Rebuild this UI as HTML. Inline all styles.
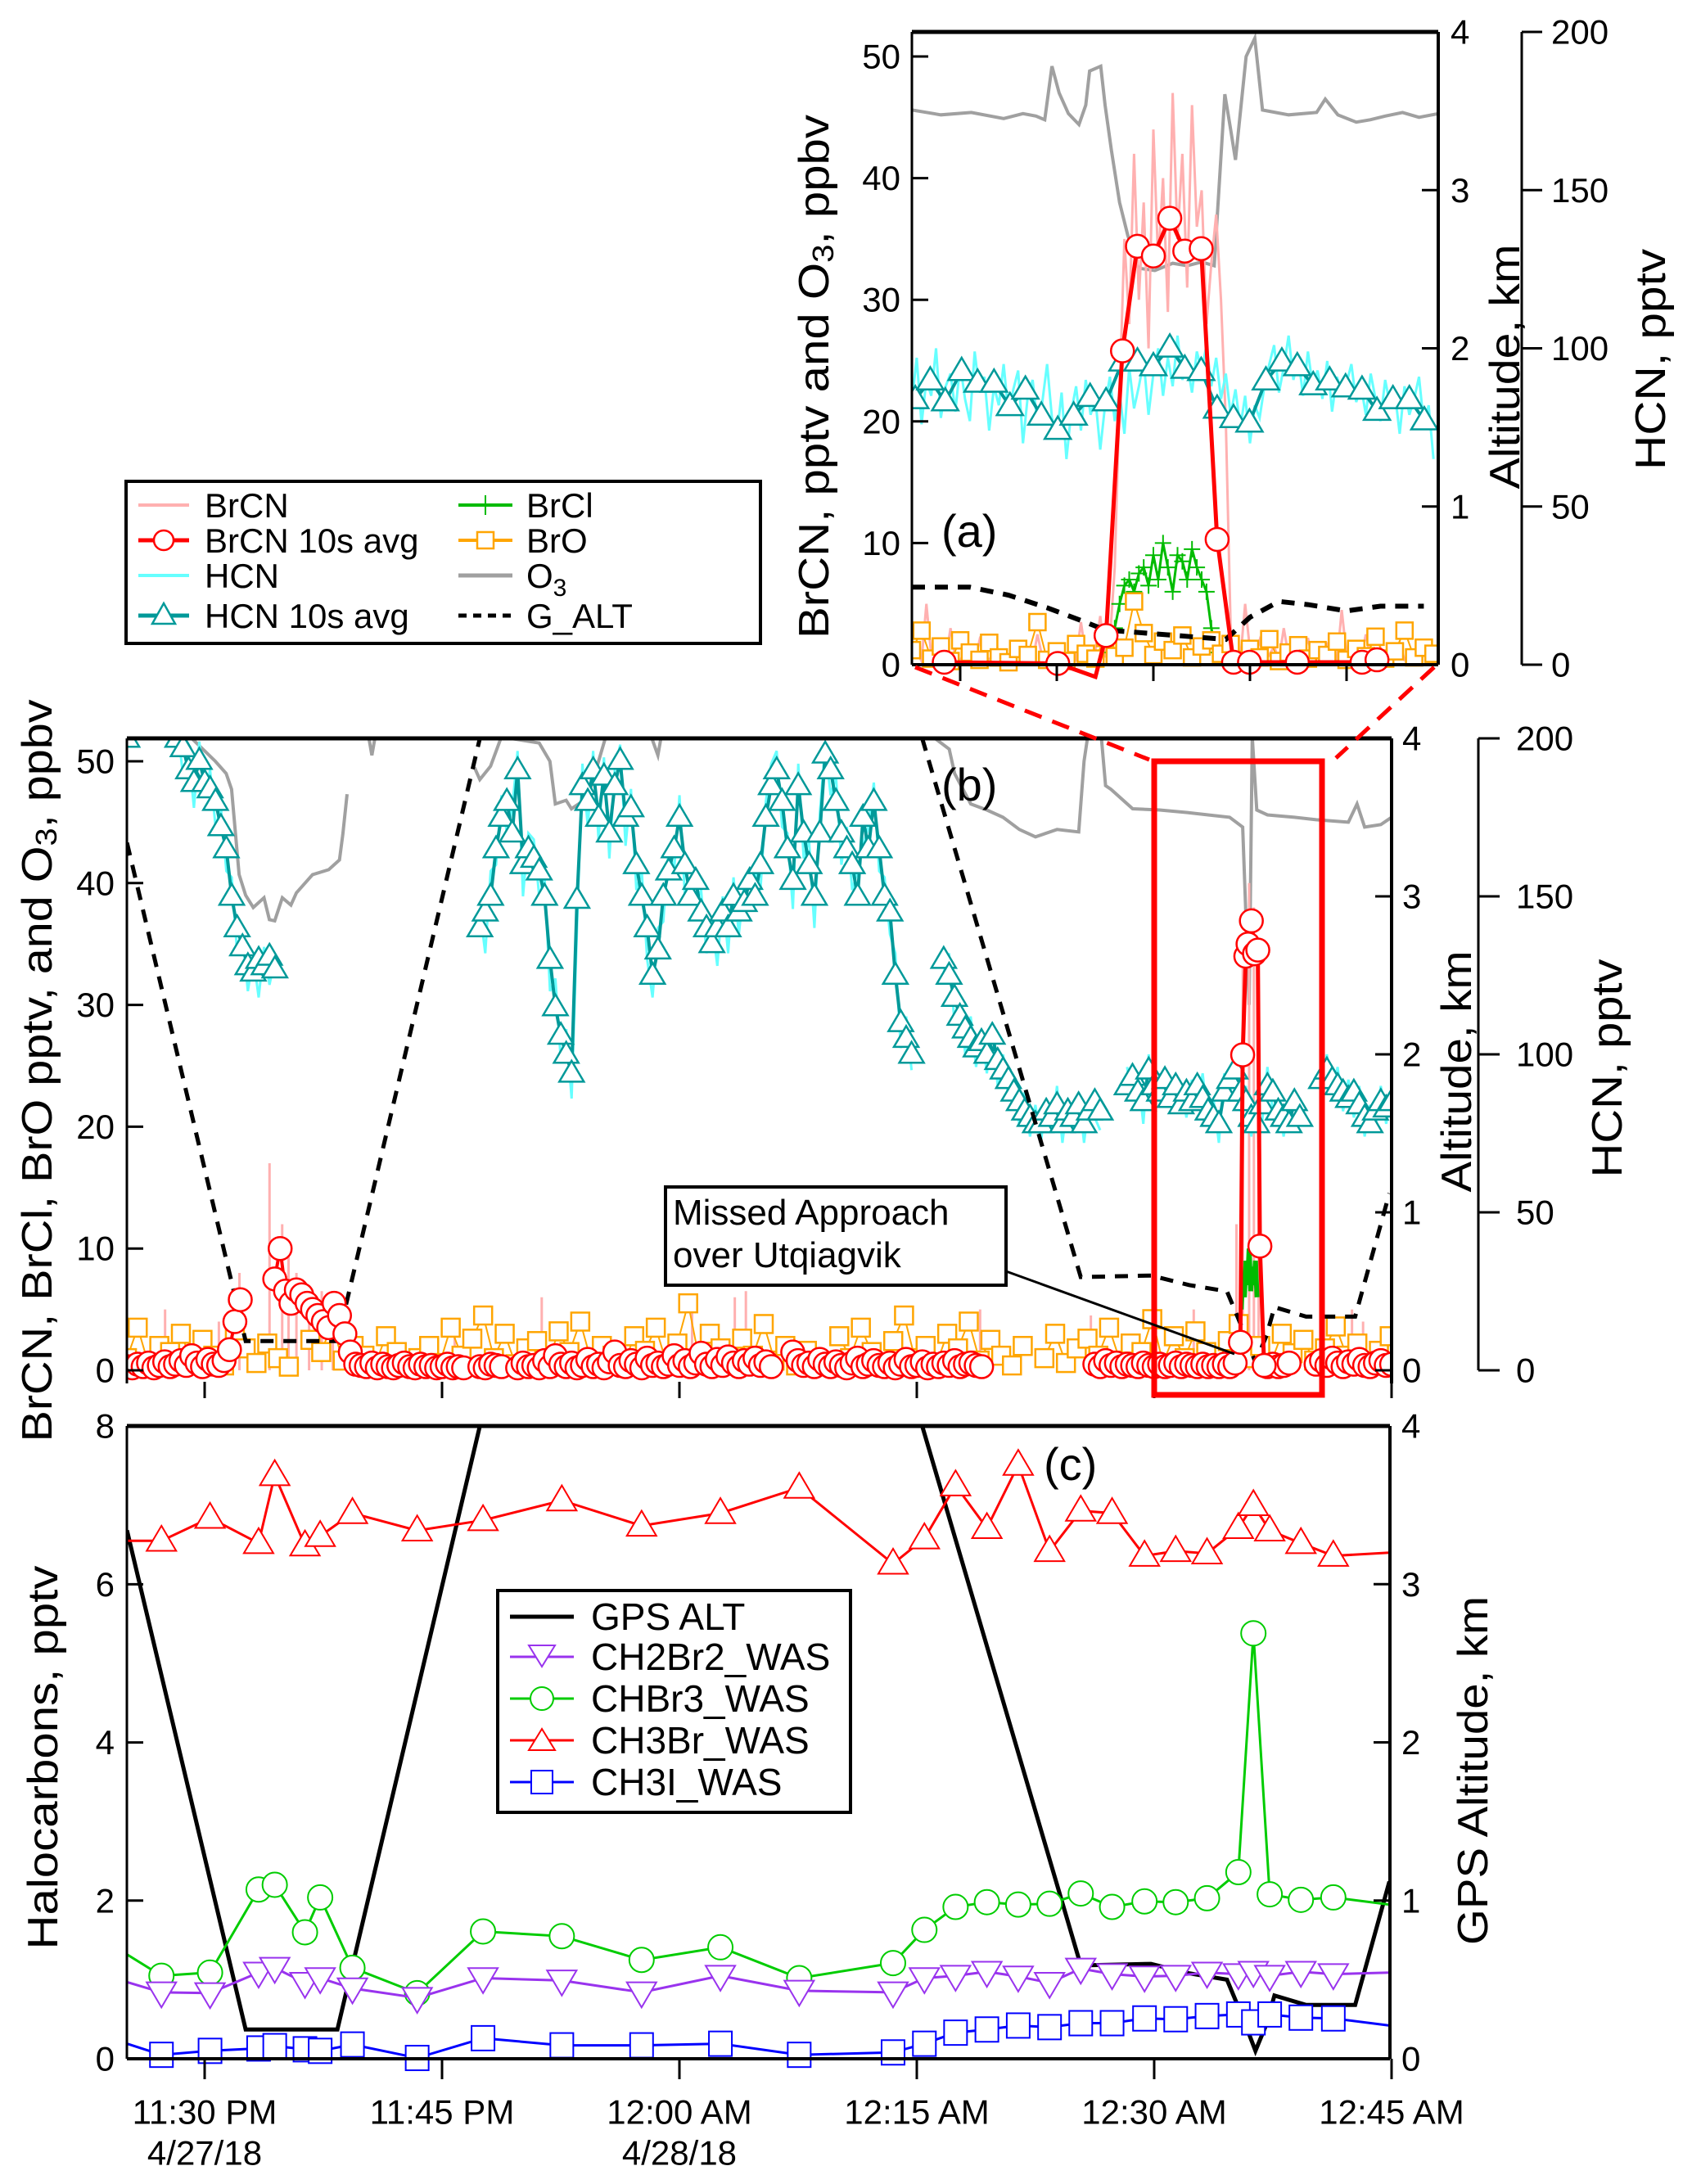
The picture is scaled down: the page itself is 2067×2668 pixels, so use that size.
<!DOCTYPE html>
<html><head><meta charset="utf-8"><title>BrCN halocarbons chart</title>
<style>
html,body{margin:0;padding:0;background:#fff;}
svg{display:block;font-family:"Liberation Sans",sans-serif;}
.tk{font-size:42px;fill:#000;}
.tt{font-size:52px;fill:#000;}
.lg{font-size:42px;fill:#000;}
</style></head>
<body>
<svg id="chart" width="2067" height="2668" viewBox="0 0 2067 2668" xmlns="http://www.w3.org/2000/svg">
<defs>
<clipPath id="clipA"><rect x="1114" y="39" width="643" height="795"/></clipPath>
<clipPath id="clipB"><rect x="155" y="902" width="1545" height="800"/></clipPath>
<clipPath id="clipC"><rect x="155" y="1742" width="1543" height="795"/></clipPath>
</defs>
<g id="panelA"></g>
<g id="panelB"></g>
<g id="panelC"></g>
<g id="axes"></g>

<!-- zoom connector + box -->
<line x1="1118" y1="815" x2="1404" y2="928" stroke="#f00" stroke-width="5" stroke-dasharray="22 14"/>
<line x1="1752" y1="815" x2="1632" y2="926" stroke="#f00" stroke-width="5" stroke-dasharray="22 14"/>
<rect x="1410" y="930" width="205" height="774" fill="none" stroke="#f00" stroke-width="7"/>

<!-- panel labels -->
<text x="1150" y="668" style="font-size:56px">(a)</text>
<text x="1150" y="978" style="font-size:56px">(b)</text>
<text x="1275" y="1808" style="font-size:56px">(c)</text>

<!-- annotation -->
<rect x="813" y="1450" width="416" height="120" fill="#fff" stroke="#000" stroke-width="4"/>
<text x="822" y="1496" class="lg" style="font-size:44px">Missed Approach</text>
<text x="822" y="1548" class="lg" style="font-size:44px">over Utqiagvik</text>
<line x1="1229" y1="1553" x2="1508" y2="1654" stroke="#000" stroke-width="3"/>

<!-- top legend -->
<g>
<rect x="154" y="588" width="775" height="198" fill="#fff" stroke="#000" stroke-width="4"/>
<line x1="169" y1="617" x2="231" y2="617" stroke="#ffb0b0" stroke-width="4"/>
<text x="250" y="632" class="lg">BrCN</text>
<line x1="169" y1="660" x2="231" y2="660" stroke="#f00" stroke-width="5"/>
<circle cx="200" cy="660" r="12" fill="#fff" stroke="#f00" stroke-width="2.5"/>
<text x="250" y="675" class="lg">BrCN 10s avg</text>
<line x1="169" y1="703" x2="231" y2="703" stroke="#66ffff" stroke-width="4"/>
<text x="250" y="718" class="lg">HCN</text>
<line x1="169" y1="752" x2="231" y2="752" stroke="#009999" stroke-width="5"/>
<polygon points="200,737 214,762 186,762" fill="#fff" stroke="#009999" stroke-width="2.5"/>
<text x="250" y="767" class="lg">HCN 10s avg</text>
<line x1="560" y1="617" x2="626" y2="617" stroke="#00bb00" stroke-width="4"/>
<line x1="593" y1="605" x2="593" y2="629" stroke="#00bb00" stroke-width="2"/>
<text x="643" y="632" class="lg">BrCl</text>
<line x1="560" y1="660" x2="626" y2="660" stroke="#ffa500" stroke-width="4"/>
<rect x="583" y="650" width="20" height="20" fill="#fff" stroke="#ffa500" stroke-width="2.5"/>
<text x="643" y="675" class="lg">BrO</text>
<line x1="560" y1="703" x2="626" y2="703" stroke="#a0a0a0" stroke-width="5"/>
<text x="643" y="718" class="lg">O<tspan dy="10" style="font-size:30px">3</tspan></text>
<line x1="560" y1="752" x2="626" y2="752" stroke="#000" stroke-width="5" stroke-dasharray="10 8"/>
<text x="643" y="767" class="lg">G_ALT</text>
</g>

<!-- bottom legend -->
<g>
<rect x="608" y="1943" width="431" height="271" fill="#fff" stroke="#000" stroke-width="4"/>
<line x1="623" y1="1975" x2="701" y2="1975" stroke="#000" stroke-width="5"/>
<text x="722" y="1991" class="lg" style="font-size:46px">GPS ALT</text>
<line x1="623" y1="2024" x2="701" y2="2024" stroke="#9933ee" stroke-width="3"/>
<polygon points="662,2036 678,2010 646,2010" fill="#fff" stroke="#9933ee" stroke-width="2"/>
<text x="722" y="2040" class="lg" style="font-size:46px">CH2Br2_WAS</text>
<line x1="623" y1="2075" x2="701" y2="2075" stroke="#00cc00" stroke-width="3"/>
<circle cx="662" cy="2075" r="14" fill="#fff" stroke="#00cc00" stroke-width="2"/>
<text x="722" y="2091" class="lg" style="font-size:46px">CHBr3_WAS</text>
<line x1="623" y1="2126" x2="701" y2="2126" stroke="#f00" stroke-width="3"/>
<polygon points="662,2112 678,2138 646,2138" fill="#fff" stroke="#f00" stroke-width="2"/>
<text x="722" y="2142" class="lg" style="font-size:46px">CH3Br_WAS</text>
<line x1="623" y1="2177" x2="701" y2="2177" stroke="#00f" stroke-width="3"/>
<rect x="649" y="2163" width="26" height="28" fill="#fff" stroke="#00f" stroke-width="2"/>
<text x="722" y="2193" class="lg" style="font-size:46px">CH3I_WAS</text>
</g>

<!-- axis titles -->
<text transform="translate(995,460) rotate(-90)" text-anchor="middle" dominant-baseline="central" class="tt" textLength="640" lengthAdjust="spacingAndGlyphs">BrCN, pptv and O<tspan dy="10" style="font-size:36px">3</tspan><tspan dy="-10">, ppbv</tspan></text>
<text transform="translate(1839,448) rotate(-90)" text-anchor="middle" dominant-baseline="central" class="tt" textLength="299" lengthAdjust="spacingAndGlyphs">Altitude, km</text>
<text transform="translate(2017,439) rotate(-90)" text-anchor="middle" dominant-baseline="central" class="tt" textLength="270" lengthAdjust="spacingAndGlyphs">HCN, pptv</text>
<text transform="translate(46,1308) rotate(-90)" text-anchor="middle" dominant-baseline="central" class="tt" textLength="907" lengthAdjust="spacingAndGlyphs">BrCN, BrCl, BrO pptv, and O<tspan dy="10" style="font-size:36px">3</tspan><tspan dy="-10">, ppbv</tspan></text>
<text transform="translate(1780,1309) rotate(-90)" text-anchor="middle" dominant-baseline="central" class="tt" textLength="295" lengthAdjust="spacingAndGlyphs">Altitude, km</text>
<text transform="translate(1964,1305) rotate(-90)" text-anchor="middle" dominant-baseline="central" class="tt" textLength="267" lengthAdjust="spacingAndGlyphs">HCN, pptv</text>
<text transform="translate(53,2147) rotate(-90)" text-anchor="middle" dominant-baseline="central" class="tt" textLength="469" lengthAdjust="spacingAndGlyphs">Halocarbons, pptv</text>
<text transform="translate(1800,2163) rotate(-90)" text-anchor="middle" dominant-baseline="central" class="tt" textLength="426" lengthAdjust="spacingAndGlyphs">GPS Altitude, km</text>
</svg>

<script>
// ===================== DATA =====================
// Panel (c): times in minutes after 11:30 PM
const wasTimes = [-2.73,0.34,3.41,4.43,6.34,7.30,9.34,13.43,17.59,22.57,27.61,32.59,37.57,43.50,45.48,47.45,49.43,51.41,53.39,55.36,57.34,59.39,61.36,63.34,65.32,66.27,67.30,69.27,71.32];
const ch3br = [6.55,6.84,6.52,7.38,6.49,6.61,6.90,6.68,6.81,7.06,6.74,6.90,7.22,6.26,6.58,7.25,6.71,7.51,6.42,6.93,6.90,6.36,6.42,6.39,6.71,7.00,6.68,6.52,6.36];
const chbr3 = [1.05,1.09,2.14,2.20,1.60,2.04,1.15,0.83,1.61,1.55,1.25,1.41,1.02,1.21,1.63,1.92,1.98,1.95,1.96,2.09,1.92,1.99,1.98,2.03,2.36,5.38,2.08,2.01,2.04];
const ch2br2 = [0.84,0.83,1.09,1.15,0.96,1.02,0.89,0.77,1.02,0.99,0.84,1.05,0.86,0.84,1.02,1.05,1.10,1.04,0.96,1.14,1.07,1.04,1.05,1.09,1.07,1.10,1.05,1.10,1.07];
const ch3i = [0.05,0.10,0.13,0.16,0.12,0.10,0.18,0.01,0.26,0.17,0.17,0.19,0.05,0.08,0.19,0.33,0.37,0.42,0.40,0.45,0.45,0.51,0.50,0.54,0.56,0.46,0.56,0.52,0.51];
const wasStart = {ch3br:6.55, chbr3:1.32, ch2br2:0.97, ch3i:0.19};
const wasEnd = {ch3br:6.40, chbr3:1.95, ch2br2:1.09, ch3i:0.42};
const altTimes = [-4.91,2.59,8.39,17.39,19.8,42.4,45.34,55.36,59.8,62.2,64.6,65.6,66.4,67.1,67.6,69.6,72.7,74.86];
const altKm = [3.34,0.185,0.185,4.0,5.0,4.8,4.0,0.59,0.60,0.54,0.50,0.26,0.05,0.22,0.40,0.34,0.34,1.12];

// Panel (a): minutes after 11:30 PM (zoomed 12:30-12:41)
const o3TimesA = [60,60.6,61.23,61.9,62.3,62.57,62.75,62.9,63.05,63.24,63.46,63.6,63.68,63.91,64.0,64.13,64.3,64.47,64.69,65.03,65.4,65.7,66.0,66.26,66.48,66.6,66.7,66.92,67.1,67.26,67.8,68.38,68.56,68.82,69.2,69.49,69.8,70.16,70.5,70.9];
const o3A = [45.6,45.2,45.4,44.9,45.3,45.1,44.8,49.2,47,45.3,44.4,46,48.8,49.2,46,42.3,38,35.3,32.6,32.4,33,32.8,33.1,32.8,46.9,44,41.5,50,51.5,45.6,45.2,45.4,46.5,45.2,44.6,44.8,45.1,45.4,45,45.3];
const hcnAvgTimesA = [60.07,60.38,60.69,61.03,61.36,61.70,62.03,62.35,62.68,63.02,63.35,63.69,64.02,64.36,64.67,65.00,65.34,65.65,65.99,66.32,66.66,66.99,67.33,67.66,67.98,68.31,68.65,68.98,69.32,69.63,69.96,70.30,70.61];
const hcnAvgA = [83.9,89.8,83.2,92.8,89.1,89.1,81.7,86.9,78.7,74.2,78.7,84.6,83.2,95.8,95.8,94.3,100.2,93.5,92.8,80.9,77.9,76.5,89.8,95.8,94.3,88.3,89.8,87.6,86.9,80.2,83.9,83.9,77.2];
const rawStartA = 60, rawStepA = 0.1;
const hcnRawA = [83,97,76,90,85,100,78,88,92,80,95,84,77,99,86,91,74,88,82,95,79,87,93,70,85,90,76,83,95,78,72,86,65,80,88,74,90,79,84,68,82,91,77,86,73,94,81,88,96,79,92,100,85,97,88,104,90,95,86,99,93,101,88,97,84,92,79,87,75,85,70,82,78,88,95,101,86,94,104,90,97,85,99,88,93,84,96,80,91,86,89,95,83,88,79,92,84,77,90,82,86,73,88,79,84,91,76,82,65];
const brcnRawA = [0.5,1,0.3,5,0.8,0.2,1.5,0.4,3,0.6,0.3,1.2,0.5,0.2,2,0.7,0.4,1,0.3,0.8,0.5,0.2,1.5,0.4,0.9,0.3,2.5,0.6,0.2,1.1,0.4,0.7,0.3,1.4,0.5,3.5,0.8,0.3,1.2,4,0.6,2,8,22,35,28,42,30,38,26,44,33,40,29,47,35,42,31,46,36,39,28,33,37,30,20,3,0.8,0.4,5,1.2,0.6,2,0.3,0.8,1.5,0.4,3,0.7,0.3,1.1,0.5,2.2,0.4,0.9,0.3,1.6,0.5,0.2,4.5,0.8,0.3,1.2,0.6,2.5,0.4,0.7,1.4,0.3,0.9,0.5,1.8,0.4,0.6,1.1,0.3,0.8,0.5,0.2];
const brcnAvgTimesA = [60.67,63.02,63.8,64.02,64.36,64.67,65.00,65.34,65.65,65.99,66.32,66.66,66.99,67.98,69.32,69.63];
const brcnAvgA = [0.2,0.1,-1,2.4,25.8,34.4,33.6,36.7,34.0,34.2,10.3,0.2,0.2,0.2,0.2,0.4];
const brclStartA = 64.1;
const brclA = [1,3,5,6.5,7,6,7.5,8,6.5,9,7,10,8,6,9,8.5,7,9.5,8,7,6,3,1];
const broStartA = 60, broStepA = 0.2;
const broA = [1.2,2.8,0.5,1.5,0.3,2,1,0.4,1.8,0.6,0.2,1.3,0.8,3.5,0.4,1.1,0.3,1.7,0.9,0.5,2.2,0.7,1.4,5.2,2.6,0.8,1.9,1.2,2.4,0.6,1.5,2,0.9,1.7,0.4,1.3,0.6,2.1,0.3,1,1.6,0.5,1.2,0.8,1.9,0.4,1.3,0.7,2.3,0.5,1.1,2.8,0.6,1.4,0.9];
const galtTimesA = [60,61.2,62,62.8,63.5,64,66.5,67,67.6,68.2,69,69.7,70.6];
const galtA = [0.49,0.49,0.44,0.36,0.28,0.22,0.16,0.30,0.40,0.38,0.34,0.37,0.37];

// Panel (b): segments sampled every 0.341 min, keyed by start time
const stepB = 0.341;
const hcnSegStartsB = [-1.70,17.39,46.70,58.29,70.57];
const hcnAvgB1 = [200,197,190,186,193,186,184,180,172,165,150,140,134,128,126,130,128,131,127];
const hcnAvgB2 = [140,145,150,165,175,180,170,190,160,165,162,158,150,130,115,106,100,94,149,185,180,190,175,188,170,185,193,175,178,160,150,140,125,133,150,158,165,175,160,150,155,145,140,135,140,145,140,150,145,148,155,150,160,175,185,190,180,165,155,185,170,160,150,170,195,190,180,170,165,160,150,175,165,180,165,150,145,125,110,105,100];
const hcnAvgB3 = [130,125,118,112,108,105,102,104,100,106,98,95,92,88,85,82,80,78,78,82,80,84,78,82,80,84,78,82,85,82];
const hcnAvgB4 = [90,93,88,85,95,90,88,92,86,90,84,88,85,90,86,82,80,78,88,92,95,88,85,80,78,84,90,88,82,80,78,85,80];
const hcnAvgB5 = [92,95,92,90,88,86,88,84,80,78,82,85,83,85];
const hcnRawB1 = [203,188,196,178,199,182,190,172,178,158,156,132,138,120,131,118,134,122,130];
const hcnRawB2 = [146,132,158,160,182,170,178,196,150,170,168,150,156,120,124,98,108,86,140,192,172,196,168,194,162,190,198,166,184,152,158,130,118,140,142,166,158,182,150,156,148,152,132,142,128,150,132,156,138,154,148,158,152,180,192,196,172,170,146,192,162,168,140,176,198,182,188,160,172,152,158,166,172,186,158,156,138,132,102,112,95];
const hcnRawB3 = [126,132,110,118,100,112,96,108,94,110,90,100,86,92,78,88,74,84,72,86,76,90,72,86,76,88,72,86,80,76];
const hcnRawB4 = [96,86,94,78,100,84,94,86,92,82,90,80,92,84,94,78,86,72,94,86,100,82,90,74,84,78,96,82,88,74,84,78,86];
const hcnRawB5 = [86,100,88,96,82,92,80,90,74,84,76,90,78,88];
const hcnPointB0 = [-4.91,200];

const brcnSegStartsB = [-4.91,4.43,17.39,37.16,56.25,67.16,70.23];
const brcnB1 = [0.3,0.2,0.5,0.3,0.6,0.2,0.4,0.7,0.3,0.5,0.8,0.4,1.2,0.6,0.3,0.9,0.5,0.4,0.8,1.7,4.0,5.8];
const brcnB2 = [7.5,10,6.5,5.5,6.6,6.2,5.5,5.0,4.5,4.0,3.5,5.5,4.5,3.0,1.5,0.5,0.4,0.3,0.6,0.2,0.5,0.3,0.2,0.4,0.6,0.3,0.2,0.5,0.3,0.4,0.2,0.3,0.5,0.2,0.3,0.2];
const brcnB3 = [0.3,0.2,0.5,0.4,0.3,null,null,0.2,0.6,0.3,0.4,0.2,0.8,0.3,1.2,0.5,0.3,0.6,0.2,0.4,0.9,0.3,0.5,0.2,0.7,1.5,0.4,0.3,0.8,0.5,0.2,1.0,0.4,0.6,0.3,0.5,1.2,0.4,0.8,0.3,0.6,1.4,0.5,0.3,0.9,0.4,1.1,0.6,0.3,0.8,0.5,1.0,0.4,0.7,0.3];
const brcnB4 = [1.5,0.8,0.4,0.6,0.3,0.9,0.5,0.3,0.7,0.4,0.2,0.6,1.0,0.3,0.5,0.8,0.4,0.3,0.6,0.2,0.5,0.9,0.3,0.4,0.7,0.2,0.5,0.3,0.6,0.4,0.8,0.3,0.5,0.6,0.4,0.3];
const brcnB5 = [0.5,0.3,0.8,0.4,0.6,0.3,0.5,0.4,0.3,0.6,0.4,0.3,0.5,0.3,0.4,0.6,0.3,0.5,0.4,0.3,0.5,0.3,0.4,0.3,0.5,0.3,0.6];
const brcnB6 = [0.3,0.5,0.3,0.4,0.6];
const brcnB7 = [0.5,0.8,0.4,1.0,0.6,0.3,0.7,0.5,0.9,0.4,0.3,0.6,0.8,0.4,0.5];
const brcnSpikeTimesB = [65.45,65.59,65.79,65.93,66.14,66.34,66.55,66.68,66.95];
const brcnSpikeB = [2.3,25.9,34,35,36.9,34.2,34.5,10.2,0.4];
const brcnRawTimesB = [-2.5,0.9,2.2,4.1,4.9,5.3,5.8,6.6,7.4,8.1,15.8,21.3,30.8,33.5,34.2,49.0,56.0,62.5,65.2,65.6,66.0,66.3,66.6,72.5,73.2];
const brcnRawB = [5,4,8,17,12,10,8,7,6.5,5,4,6,6,6,6.5,5,4.5,5,12,35,40,38,20,5,4];
const broStartB = -4.91, broStepB = 0.682;
const broB = [1,3.5,0.5,2,1.5,3,0.8,2.5,1.2,0.4,3,1.8,0.6,2.2,1,0.3,null,2.5,1.5,3.8,0.8,2,1.2,0.5,2.8,1.5,0.4,1,2,0.6,3.5,1.2,2.6,4.5,1,3,0.5,1.8,2.4,0.7,3.2,1.5,4,0.8,2,1.2,0.4,2.8,1.6,3.5,0.6,2.2,5.5,1,3,1.8,0.5,2.6,1.2,3.8,0.8,2,0.4,1.6,null,null,2.8,1,3.5,1.5,0.6,2.4,4.5,1,2,0.5,3,1.8,4,0.8,2.5,1.2,0.4,2,null,1,3,0.6,1.8,2.6,1.2,3.5,0.8,2.2,1.5,4.2,0.6,2.8,1,3.2,1.5,0.5,2.4,3.8,1,2,0.6,3,1.4,2.5,0.8,1.8,3.6,1.2,2.2,0.5,1.6,2.8];
const brclTimesB = [65.5,65.6,65.7,65.8,65.9,66.0,66.1,66.2,66.3,66.4,66.5];
const brclB = [5,8,6,9,7,10,6.5,8.5,7,9,6];
const o3TimesB1 = [-1.70,0.68,1.36,1.70,2.18,2.59,3.07,3.75,4.09,4.43,4.91,5.45,5.80,6.82,7.84,8.52,8.73,9.0];
const o3B1 = [53,50,49,47.7,40.7,39,38.0,38.8,37,36.9,38.8,38.2,39.2,40.7,41.1,41.9,44,47.3];
const o3TimesB2 = [10.23,10.57,10.91];
const o3B2 = [53,50.5,53];
const o3TimesB3 = [17.05,17.39,18.07,18.75,21.14,21.82,22.16,22.84,23.18,24.2,24.89,25.57,27.95,28.64,28.98];
const o3B3 = [49.5,48.5,49.6,52,51.5,50,46.5,46.8,46.1,47,50,53,53,50.5,53];
const o3TimesB4 = [35.45,45.0,47.05,47.39,48.41,49.43,50.45,51.48,52.5,53.86,55.23,55.57,55.91,56.59,56.93,57.27,58.64,60.34,62.04,63.41,64.77,65.59,66.0,66.2,66.48,67.16,68.86,70.23,72.27,72.82,73.3,74.32,75];
const o3B4 = [53,53,51,49,46.5,46,45.4,44.4,43.8,44.4,44.2,50,53,53,48,47.7,46.1,46,45.8,45.6,45.4,44.6,30,52,46,45.6,45.4,45.2,45.0,46.5,44.6,44.8,45.4];

// tick labels
const timeTicks = [0,15,30,45,60,75];
const timeTickLabels = ["11:30 PM","11:45 PM","12:00 AM","12:15 AM","12:30 AM","12:45 AM"];
const dateTickLabels = ["4/27/18","","4/28/18","","",""];
const leftTicksAB = [0,10,20,30,40,50];
const altTicks = [0,1,2,3,4];
const hcnTicks = [0,50,100,150,200];
const leftTicksC = [0,2,4,6,8];
const zoomTicksA = [61,63,65,67,69];

// ===================== SCALES =====================
const xA = t => 1114 + (t - 60) * 59;
const yAL = v => 812 - v * 14.86;
const yAAlt = k => 812 - k * 193.25;
const yAH = h => 812 - h * 3.865;
const xB = t => 250 + t * 19.333;
const yBL = v => 1674 - v * 14.88;
const yBAlt = k => 1674 - k * 193;
const yBH = h => 1674 - h * 3.86;
const yCL = v => 2515 - v * 96.6;
const yCAlt = k => 2515 - k * 193.25;

const NS = "http://www.w3.org/2000/svg";
const svg = document.getElementById('chart');
function mk(tag, attrs, parent) {
  const e = document.createElementNS(NS, tag);
  for (const k in attrs) e.setAttribute(k, attrs[k]);
  parent.appendChild(e);
  return e;
}
function pathFrom(pts) {
  let d = '', pen = false;
  for (const p of pts) {
    if (p == null || p[1] == null) { pen = false; continue; }
    d += (pen ? 'L' : 'M') + p[0].toFixed(1) + ',' + p[1].toFixed(1);
    pen = true;
  }
  return d;
}
function segPts(t0, step, vals, xf, yf) {
  return vals.map((v, i) => v == null ? null : [xf(t0 + i * step), yf(v)]);
}
function pairPts(ts, vs, xf, yf) { return ts.map((t, i) => vs[i] == null ? null : [xf(t), yf(vs[i])]); }
function triPts(x, y, s, up) {
  const h = s * 0.85;
  return up ? `${x},${y - h*0.6} ${x + s/2},${y + h*0.4} ${x - s/2},${y + h*0.4}`
            : `${x},${y + h*0.6} ${x + s/2},${y - h*0.4} ${x - s/2},${y - h*0.4}`;
}

// ===================== PANEL A =====================
const gA = mk('g', {'clip-path': 'url(#clipA)'}, document.getElementById('panelA'));
let e;
e = mk('path', {d: pathFrom(pairPts(o3TimesA, o3A, xA, yAL)), fill: 'none', stroke: '#a0a0a0', 'stroke-width': 4}, gA);


e = mk('path', {d: pathFrom(segPts(rawStartA, rawStepA, brcnRawA, xA, yAL)), fill: 'none', stroke: '#ffb0b0', 'stroke-width': 3}, gA);


e = mk('path', {d: pathFrom(segPts(rawStartA, rawStepA, hcnRawA, xA, yAH)), fill: 'none', stroke: '#66ffff', 'stroke-width': 3}, gA);


e = mk('path', {d: pathFrom(pairPts(hcnAvgTimesA, hcnAvgA, xA, yAH)), fill: 'none', stroke: '#009999', 'stroke-width': 4}, gA);


hcnAvgA.forEach((v, i) => {
  const m = mk('polygon', {points: triPts(xA(hcnAvgTimesA[i]), yAH(v), 32, true), fill: '#fff', stroke: '#009999', 'stroke-width': 2.5}, gA);
  
  
});
e = mk('path', {d: pathFrom(segPts(brclStartA, 0.1, brclA, xA, yAL)), fill: 'none', stroke: '#00bb00', 'stroke-width': 3}, gA);


brclA.forEach((v, i) => {
  const x = xA(brclStartA + i * 0.1), y = yAL(v);
  const m = mk('path', {d: `M${x-10},${y}H${x+10}M${x},${y-10}V${y+10}`, stroke: '#00bb00', 'stroke-width': 2}, gA);
  
  
});
e = mk('path', {d: pathFrom(segPts(broStartA, broStepA, broA, xA, yAL)), fill: 'none', stroke: '#ffa500', 'stroke-width': 2}, gA);


broA.forEach((v, i) => {
  const m = mk('rect', {x: xA(broStartA + i * broStepA) - 10, y: yAL(v) - 10, width: 20, height: 20, fill: '#fff', stroke: '#ffa500', 'stroke-width': 2.5}, gA);
  
  
});
e = mk('path', {d: pathFrom(pairPts(galtTimesA, galtA, xA, yAAlt)), fill: 'none', stroke: '#000', 'stroke-width': 6, 'stroke-dasharray': '16 12'}, gA);


e = mk('path', {d: pathFrom(pairPts(brcnAvgTimesA, brcnAvgA, xA, yAL)), fill: 'none', stroke: '#f00', 'stroke-width': 5}, gA);


brcnAvgA.forEach((v, i) => {
  if (v < 0) return;
  const m = mk('circle', {cx: xA(brcnAvgTimesA[i]), cy: yAL(v), r: 14, fill: '#fff', stroke: '#f00', 'stroke-width': 2.5}, gA);
  
  
});

// ===================== PANEL B =====================
const gB = mk('g', {'clip-path': 'url(#clipB)'}, document.getElementById('panelB'));
[[o3TimesB1, o3B1], [o3TimesB2, o3B2], [o3TimesB3, o3B3], [o3TimesB4, o3B4]].forEach(s => {
  const l = mk('path', {d: pathFrom(pairPts(s[0], s[1], xB, yBL)), fill: 'none', stroke: '#a0a0a0', 'stroke-width': 4}, gB);
  
  
});
brcnRawB.forEach((v, i) => {
  const x = xB(brcnRawTimesB[i]);
  const l = mk('line', {x1: x, y1: yBL(0), x2: x, y2: yBL(v), stroke: '#ffb0b0', 'stroke-width': 3}, gB);
  
  
});
const hcnRawSegsB = [hcnRawB1, hcnRawB2, hcnRawB3, hcnRawB4, hcnRawB5];
const hcnAvgSegsB = [hcnAvgB1, hcnAvgB2, hcnAvgB3, hcnAvgB4, hcnAvgB5];
hcnRawSegsB.forEach((seg, k) => {
  const l = mk('path', {d: pathFrom(segPts(hcnSegStartsB[k], stepB, seg, xB, yBH)), fill: 'none', stroke: '#66ffff', 'stroke-width': 3}, gB);
  
  
});
hcnAvgSegsB.forEach((seg, k) => {
  const l = mk('path', {d: pathFrom(segPts(hcnSegStartsB[k], stepB, seg, xB, yBH)), fill: 'none', stroke: '#009999', 'stroke-width': 4}, gB);
  
  
  seg.forEach((v, i) => {
    const m = mk('polygon', {points: triPts(xB(hcnSegStartsB[k] + i * stepB), yBH(v), 30, true), fill: '#fff', stroke: '#009999', 'stroke-width': 2.5}, gB);
    
    
  });
});
e = mk('polygon', {points: triPts(xB(hcnPointB0[0]), yBH(hcnPointB0[1]), 30, true), fill: '#fff', stroke: '#009999', 'stroke-width': 2.5}, gB);


e = mk('path', {d: pathFrom(pairPts(brclTimesB, brclB, xB, yBL)), fill: 'none', stroke: '#00bb00', 'stroke-width': 6}, gB);


e = mk('path', {d: pathFrom(segPts(broStartB, broStepB, broB, xB, yBL)), fill: 'none', stroke: '#ffa500', 'stroke-width': 2}, gB);


broB.forEach((v, i) => {
  if (v == null) return;
  const m = mk('rect', {x: xB(broStartB + i * broStepB) - 11, y: yBL(v) - 11, width: 22, height: 22, fill: '#fff', stroke: '#ffa500', 'stroke-width': 2.5}, gB);
  
  
});
e = mk('path', {d: pathFrom(pairPts(altTimes, altKm, xB, yBAlt)), fill: 'none', stroke: '#000', 'stroke-width': 5, 'stroke-dasharray': '16 12'}, gB);


const brcnSegsB = [brcnB1, brcnB2, brcnB3, brcnB4, brcnB5, brcnB6, brcnB7];
brcnSegsB.forEach((seg, k) => {
  const l = mk('path', {d: pathFrom(segPts(brcnSegStartsB[k], stepB, seg, xB, yBL)), fill: 'none', stroke: '#f00', 'stroke-width': 4}, gB);
  
  
  seg.forEach((v, i) => {
    if (v == null) return;
    const m = mk('circle', {cx: xB(brcnSegStartsB[k] + i * stepB), cy: yBL(v), r: 14, fill: '#fff', stroke: '#f00', 'stroke-width': 2.5}, gB);
    
    
  });
});
e = mk('path', {d: pathFrom(pairPts(brcnSpikeTimesB, brcnSpikeB, xB, yBL)), fill: 'none', stroke: '#f00', 'stroke-width': 5}, gB);


brcnSpikeB.forEach((v, i) => {
  const m = mk('circle', {cx: xB(brcnSpikeTimesB[i]), cy: yBL(v), r: 14, fill: '#fff', stroke: '#f00', 'stroke-width': 2.5}, gB);
  
  
});

// ===================== PANEL C =====================
const gC = mk('g', {'clip-path': 'url(#clipC)'}, document.getElementById('panelC'));
e = mk('path', {d: pathFrom(pairPts(altTimes, altKm, xB, yCAlt)), fill: 'none', stroke: '#000', 'stroke-width': 5}, gC);


const wasSeries = [
  ['ch3br', ch3br, '#f00', 'tri-up'],
  ['chbr3', chbr3, '#00cc00', 'circle'],
  ['ch2br2', ch2br2, '#9933ee', 'tri-down'],
  ['ch3i', ch3i, '#00f', 'square']
];
wasSeries.forEach(s => {
  const key = s[0], vals = s[1], col = s[2], shape = s[3];
  const pts = [[xB(-4.91), yCL(wasStart[key])]].concat(pairPts(wasTimes, vals, xB, yCL)).concat([[xB(74.86), yCL(wasEnd[key])]]);
  const l = mk('path', {d: pathFrom(pts), fill: 'none', stroke: col, 'stroke-width': 3}, gC);
  
  
  vals.forEach((v, i) => {
    const x = xB(wasTimes[i]), y = yCL(v);
    let m;
    if (shape === 'tri-up') m = mk('polygon', {points: triPts(x, y, 36, true), fill: '#fff', stroke: col, 'stroke-width': 2}, gC);
    else if (shape === 'tri-down') m = mk('polygon', {points: triPts(x, y, 36, false), fill: '#fff', stroke: col, 'stroke-width': 2}, gC);
    else if (shape === 'circle') m = mk('circle', {cx: x, cy: y, r: 15, fill: '#fff', stroke: col, 'stroke-width': 2}, gC);
    else m = mk('rect', {x: x - 14, y: y - 15, width: 28, height: 30, fill: '#fff', stroke: col, 'stroke-width': 2}, gC);
    
    
  });
});

// ===================== AXES =====================
const gX = document.getElementById('axes');
function line(x1, y1, x2, y2, w, name) {
  const l = mk('line', {x1, y1, x2, y2, stroke: '#000', 'stroke-width': w}, gX);
  
  
  return l;
}
function label(x, y, txt, anchor, name) {
  const t = mk('text', {x, y, 'text-anchor': anchor, 'dominant-baseline': 'central', class: 'tk'}, gX);
  t.textContent = txt;
  
  
  return t;
}
// panel a frame
line(1114, 39, 1757, 39, 5, 'panel-a-top-border');
line(1114, 39, 1114, 812, 3, 'panel-a-left-axis');
line(1757, 39, 1757, 812, 4, 'panel-a-altitude-axis');
line(1114, 812, 1757, 812, 4, 'panel-a-x-axis');
line(1859, 39, 1859, 812, 3, 'panel-a-hcn-axis');
leftTicksAB.forEach(v => { line(1114, yAL(v), 1134, yAL(v), 3, 'panel-a-left-tick'); label(1100, yAL(v), String(v), 'end', 'panel-a-left-tick-label'); });
altTicks.forEach(v => { line(1737, yAAlt(v), 1757, yAAlt(v), 3, 'panel-a-altitude-tick'); label(1772, yAAlt(v), String(v), 'start', 'panel-a-altitude-tick-label'); });
hcnTicks.forEach(v => { line(1859, yAH(v), 1884, yAH(v), 3, 'panel-a-hcn-tick'); label(1895, yAH(v), String(v), 'start', 'panel-a-hcn-tick-label'); });
zoomTicksA.forEach(t => line(xA(t), 812, xA(t), 832, 3, 'panel-a-x-tick'));
// panel b frame
line(155, 902, 1700, 902, 5, 'panel-b-top-border');
line(155, 902, 155, 1690, 3, 'panel-b-left-axis');
line(1700, 902, 1700, 1690, 4, 'panel-b-altitude-axis');
line(1806, 902, 1806, 1674, 3, 'panel-b-hcn-axis');
leftTicksAB.forEach(v => { line(155, yBL(v), 175, yBL(v), 3, 'panel-b-left-tick'); label(140, yBL(v), String(v), 'end', 'panel-b-left-tick-label'); });
altTicks.forEach(v => { line(1680, yBAlt(v), 1700, yBAlt(v), 3, 'panel-b-altitude-tick'); label(1713, yBAlt(v), String(v), 'start', 'panel-b-altitude-tick-label'); });
hcnTicks.forEach(v => { line(1806, yBH(v), 1832, yBH(v), 3, 'panel-b-hcn-tick'); label(1852, yBH(v), String(v), 'start', 'panel-b-hcn-tick-label'); });
timeTicks.forEach(t => line(xB(t), 1688, xB(t), 1708, 3, 'panel-b-x-tick'));
// panel c frame
line(155, 1742, 1698, 1742, 5, 'panel-c-top-border');
line(155, 1742, 155, 2515, 3, 'panel-c-left-axis');
line(1698, 1742, 1698, 2515, 4, 'panel-c-right-axis');
line(155, 2515, 1698, 2515, 4, 'panel-c-x-axis');
leftTicksC.forEach(v => { line(155, yCL(v), 175, yCL(v), 3, 'panel-c-left-tick'); label(140, yCL(v), String(v), 'end', 'panel-c-left-tick-label'); });
altTicks.forEach(v => { line(1678, yCAlt(v), 1698, yCAlt(v), 3, 'panel-c-right-tick'); label(1712, yCAlt(v), String(v), 'start', 'panel-c-right-tick-label'); });
timeTicks.forEach((t, i) => {
  line(xB(t), 2515, xB(t), 2540, 3, 'panel-c-x-tick');
  label(xB(t), 2580, timeTickLabels[i], 'middle', 'x-tick-label');
  if (dateTickLabels[i]) label(xB(t), 2630, dateTickLabels[i], 'middle', 'x-date-label');
});
</script>
</body></html>
